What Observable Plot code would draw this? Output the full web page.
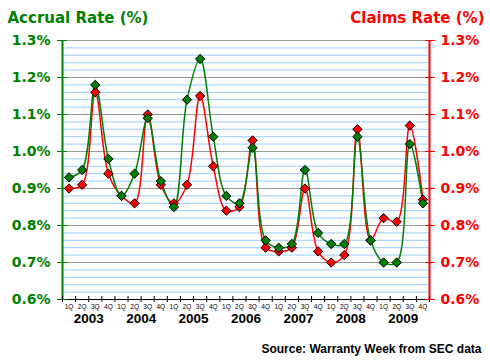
<!DOCTYPE html>
<html><head><meta charset="utf-8">
<script src="https://cdn.jsdelivr.net/npm/d3@7"></script>
<script src="https://cdn.jsdelivr.net/npm/@observablehq/plot@0.6"></script>
<style>body{margin:0;background:#fff}#chart{width:490px;height:362px}</style>
</head><body><div id="chart"></div>
<script>
const years = ["2003","2004","2005","2006","2007","2008","2009"];
const quarterLabels = ["1Q","2Q","3Q","4Q"];
const accrual = [0.93,0.95,1.18,0.98, 0.88,0.94,1.09,0.92, 0.85,1.14,1.25,1.04, 0.88,0.86,1.01,0.76, 0.74,0.75,0.95,0.78, 0.75,0.75,1.04,0.76, 0.70,0.70,1.02,0.86];
const claims  = [0.90,0.91,1.16,0.94, 0.88,0.86,1.10,0.91, 0.86,0.91,1.15,0.96, 0.84,0.85,1.03,0.74, 0.73,0.74,0.90,0.73, 0.70,0.72,1.06,0.76, 0.82,0.81,1.07,0.87];
const yTicks = [0.6,0.7,0.8,0.9,1.0,1.1,1.2,1.3];
const minorTicks = d3.range(0,36).map(k => +(0.6 + k*0.02).toFixed(2)).filter(v => Math.round(v*100) % 10 !== 0);
const titleLeft = "Accrual Rate (%)";
const titleRight = "Claims Rate (%)";
const source = "Source: Warranty Week from SEC data";

const GREEN = "#008000", RED = "#ff0000";
const rows = accrual.map((a, i) => ({i, q: quarterLabels[i % 4], accrual: a, claims: claims[i]}));
const xTicks = d3.range(0, rows.length + 1);
const fmt = d => d.toFixed(1) + "%";

const chart = Plot.plot({
  width: 490, height: 362,
  marginLeft: 62, marginRight: 61, marginTop: 40, marginBottom: 63,
  x: {type: "linear", domain: [0, rows.length], axis: null},
  y: {domain: [0.6, 1.3], axis: null},
  style: {background: "#fff", fontFamily: "Liberation Sans, Arial, sans-serif"},
  marks: [
    Plot.ruleY(minorTicks, {stroke: "#99ccff", strokeWidth: 1}),
    Plot.ruleY(yTicks.filter(d => d > 0.6), {stroke: "#999999", strokeWidth: 1}),
    Plot.ruleY([0.6], {stroke: "#000", strokeWidth: 1}),
    Plot.ruleX([0], {stroke: GREEN, strokeWidth: 2}),
    Plot.ruleX([rows.length], {stroke: RED, strokeWidth: 2}),
    Plot.axisY(yTicks, {anchor: "left", tickSize: 5, tickPadding: 7, stroke: GREEN, fill: GREEN, tickFormat: fmt, fontSize: 14, fontWeight: "bold", fontFamily: "DejaVu Sans", label: null}),
    Plot.axisY(yTicks, {anchor: "left", tickSize: -5, stroke: GREEN, tickFormat: () => "", label: null}),
    Plot.axisY(yTicks, {anchor: "right", tickSize: 5, tickPadding: 6, stroke: RED, fill: RED, tickFormat: fmt, fontSize: 14, fontWeight: "bold", fontFamily: "DejaVu Sans", label: null}),
    Plot.axisY(yTicks, {anchor: "right", tickSize: -5, stroke: RED, tickFormat: () => "", label: null}),
    Plot.axisX(xTicks, {anchor: "bottom", tickSize: 3, stroke: "#000", tickFormat: () => "", label: null}),
    Plot.axisX(xTicks, {anchor: "bottom", tickSize: -3, stroke: "#000", tickFormat: () => "", label: null}),
    Plot.line(rows, {x: d => d.i + 0.5, y: "claims", stroke: RED, strokeWidth: 1.5, curve: "catmull-rom"}),
    Plot.line(rows, {x: d => d.i + 0.5, y: "accrual", stroke: GREEN, strokeWidth: 1.5, curve: "catmull-rom"}),
    Plot.dot(rows, {x: d => d.i + 0.5, y: "claims", symbol: "diamond2", r: 4.2, fill: RED, stroke: "#000", strokeWidth: 1}),
    Plot.dot(rows, {x: d => d.i + 0.5, y: "accrual", symbol: "diamond2", r: 4.2, fill: GREEN, stroke: "#000", strokeWidth: 1}),
    Plot.text(rows, {x: d => d.i + 0.5, text: "q", frameAnchor: "bottom", dy: 9, fontSize: 6.5, fill: "#000"}),
    Plot.text(years, {x: (d, i) => i * 4 + 2, text: d => d, frameAnchor: "bottom", dy: 23, fontSize: 13.5, fontWeight: "bold", fill: "#000"}),
    Plot.text([source], {text: d => d, frameAnchor: "bottom-right", dx: 52, dy: 53, textAnchor: "end", fontSize: 12, fontWeight: "bold", fill: "#000"}),
    Plot.text([titleLeft], {text: d => d, frameAnchor: "top-left", dx: -55, dy: -28, textAnchor: "start", fontSize: 15, fontWeight: "bold", fontFamily: "DejaVu Sans", fill: GREEN}),
    Plot.text([titleRight], {text: d => d, frameAnchor: "top-right", dx: 55, dy: -28, textAnchor: "end", fontSize: 15, fontWeight: "bold", fontFamily: "DejaVu Sans", fill: RED})
  ]
});
document.getElementById("chart").appendChild(chart);
</script></body></html>
